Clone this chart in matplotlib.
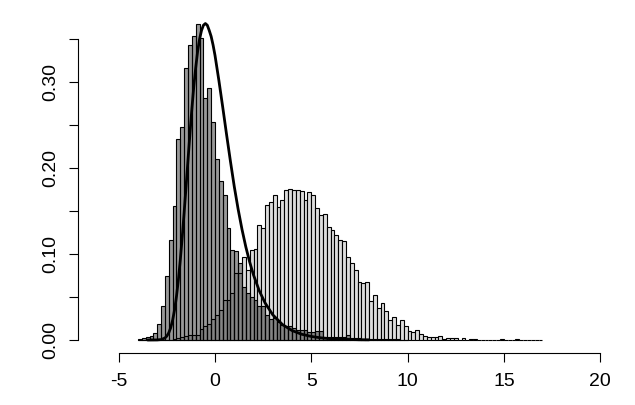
import numpy as np
import matplotlib
matplotlib.use("Agg")
import matplotlib.pyplot as plt

# ---------------- data ----------------
bin_start = -4.0
bin_width = 0.2

# medium grey histogram (left peak), densities per bin starting at -4.0
dens_a = [0.001, 0.002, 0.003, 0.005, 0.008, 0.019, 0.039, 0.074, 0.116, 0.156,
          0.234, 0.248, 0.316, 0.343, 0.353, 0.368, 0.351, 0.281, 0.293, 0.254,
          0.210, 0.185, 0.169, 0.130, 0.105, 0.103, 0.090, 0.062, 0.055, 0.050,
          0.047, 0.040, 0.040, 0.029, 0.025, 0.026, 0.021, 0.018, 0.016, 0.016,
          0.014, 0.012, 0.012, 0.012, 0.009, 0.009, 0.010, 0.010, 0.004, 0.004,
          0.004, 0.004, 0.004, 0.004, 0.006, 0.002, 0.002, 0.002, 0.001, 0.001,
          0.001, 0.001, 0.001, 0.001, 0.001, 0.001, 0.001, 0.001, 0.0, 0.0]

# light grey histogram (right hump), densities per bin starting at -4.0
dens_b = [0.0, 0.0, 0.0, 0.0, 0.0, 0.0, 0.0, 0.0, 0.0, 0.001,
          0.002, 0.004, 0.005, 0.006, 0.006, 0.006, 0.013, 0.016, 0.019, 0.024,
          0.029, 0.035, 0.047, 0.047, 0.055, 0.078, 0.078, 0.096, 0.081, 0.105,
          0.106, 0.134, 0.130, 0.157, 0.160, 0.169, 0.155, 0.163, 0.174, 0.176,
          0.175, 0.174, 0.173, 0.163, 0.172, 0.169, 0.153, 0.145, 0.146, 0.131,
          0.128, 0.122, 0.116, 0.115, 0.097, 0.089, 0.081, 0.068, 0.066, 0.068,
          0.045, 0.052, 0.037, 0.043, 0.034, 0.023, 0.027, 0.017, 0.023, 0.016,
          0.010, 0.009, 0.012, 0.007, 0.005, 0.003, 0.003, 0.004, 0.005, 0.001,
          0.002, 0.002, 0.002, 0.0, 0.002, 0.0, 0.001, 0.001, 0.0, 0.0,
          0.0, 0.0, 0.0, 0.0, 0.001, 0.0, 0.0, 0.0, 0.001, 0.0,
          0.0, 0.0, 0.0, 0.0, 0.0]

# density curve
curve_x = [-3.5, -3.0, -2.8, -2.6, -2.5, -2.4, -2.3, -2.2, -2.1, -2.0, -1.9, -1.8,
           -1.7, -1.6, -1.5, -1.4, -1.3, -1.2, -1.1, -1.0, -0.9, -0.8, -0.7,
           -0.6, -0.5, -0.4, -0.3, -0.2, -0.1, 0.0, 0.2, 0.4, 0.6, 0.8, 1.0,
           1.2, 1.4, 1.6, 1.8, 2.0, 2.3, 2.6, 3.0, 3.5, 4.0, 4.5, 5.0, 5.5,
           6.0, 6.5, 7.0, 7.5, 8.0]
curve_y = [0.0, 0.0001, 0.0005, 0.0023, 0.0046, 0.0084, 0.0143, 0.0230, 0.0350,
           0.0507, 0.0703, 0.0936, 0.120, 0.149, 0.179, 0.210, 0.240, 0.269,
           0.295, 0.317, 0.336, 0.350, 0.360, 0.366, 0.368, 0.366, 0.360,
           0.353, 0.343, 0.331, 0.302, 0.271, 0.239, 0.208, 0.1785, 0.1522,
           0.1288, 0.1083, 0.0907, 0.0756, 0.0572, 0.0431, 0.0293, 0.0180,
           0.0110, 0.0067, 0.0041, 0.0025, 0.0015, 0.0009, 0.0006, 0.0003, 0.0002]

x_ticks = [-5, 0, 5, 10, 15, 20]
x_labels = ["-5", "0", "5", "10", "15", "20"]
y_ticks = [0.00, 0.05, 0.10, 0.15, 0.20, 0.25, 0.30, 0.35]
y_labels = ["0.00", "", "0.10", "", "0.20", "", "0.30", ""]

# ---------------- figure ----------------
W, H = 635, 405
fig = plt.figure(figsize=(W / 100, H / 100), dpi=100)
plt.rcParams['font.family'] = ['Liberation Sans', 'DejaVu Sans']

# pixel geometry of the reference (x=0 at px 215, 19.26 px/unit; y=0 at px 340, 860 px/unit)
L, R, T, B = 78, 625, 12, 353
ax = fig.add_axes([L / W, 1 - B / H, (R - L) / W, (B - T) / H])
px2x = lambda p: (p - 215) / 19.26
py2y = lambda p: (340 - p) / 860.0
ax.set_xlim(px2x(L), px2x(R))
ax.set_ylim(py2y(B), py2y(T))

edges_b = bin_start + bin_width * np.arange(len(dens_b))
edges_a = bin_start + bin_width * np.arange(len(dens_a))
ax.bar(edges_b, dens_b, width=bin_width, align='edge', color='#dddddd',
       edgecolor='black', linewidth=0.8, zorder=2)
ax.bar(edges_a, dens_a, width=bin_width, align='edge', color=(0, 0, 0, 0.40),
       edgecolor='black', linewidth=0.8, zorder=3)
ax.plot(curve_x, curve_y, color='black', linewidth=2.0, zorder=4,
        solid_joinstyle='round', solid_capstyle='round')

for s in ['top', 'right']:
    ax.spines[s].set_visible(False)
ax.spines['left'].set_bounds(0, 0.35)
ax.spines['bottom'].set_bounds(-5, 20)
for s in ['left', 'bottom']:
    ax.spines[s].set_linewidth(0.8)

ax.set_xticks(x_ticks)
ax.set_xticklabels(x_labels)
ax.set_yticks(y_ticks)
ax.set_yticklabels(y_labels, rotation=90, va='center')
ax.tick_params(axis='both', direction='out', length=6.8, width=0.8,
               labelsize=14, colors='black')
ax.tick_params(axis='x', pad=7.5)
ax.tick_params(axis='y', pad=6.5)

fig.savefig('out.png', dpi=100)
